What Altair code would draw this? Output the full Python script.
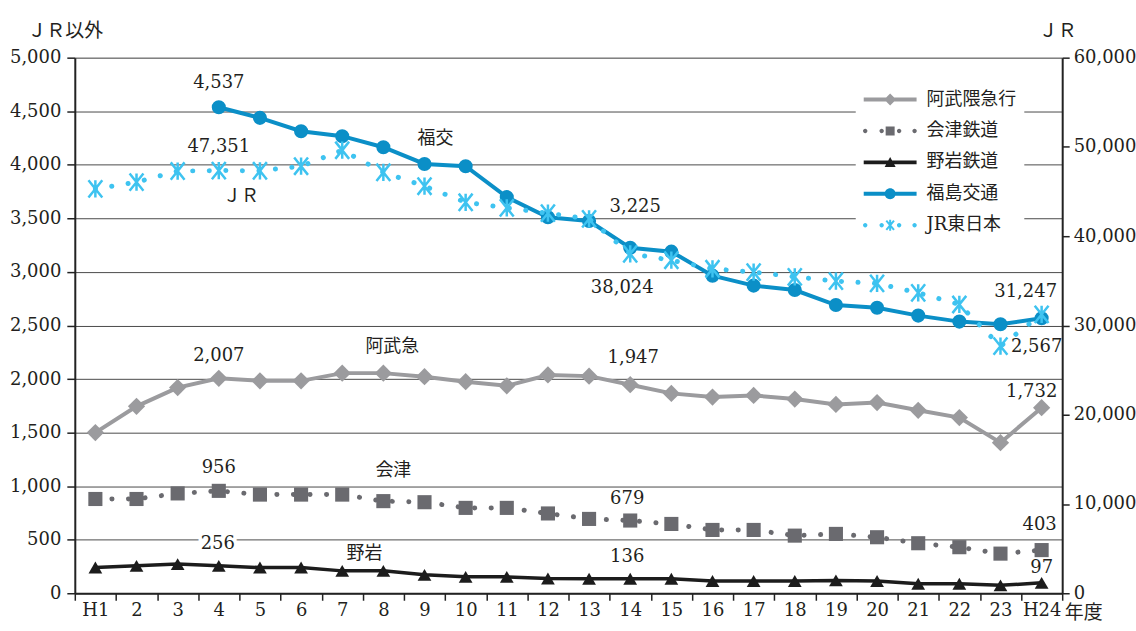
import math
import altair as alt
import pandas as pd

# 年度 (fiscal years, Heisei)
years = ["H1"] + [str(i) for i in range(2, 24)] + ["H24"]

# 輸送人員 (thousands) — private lines, left axis
abukuma = [1500, 1745, 1920, 2007, 1983, 1983, 2055, 2055, 2022, 1975, 1937, 2038,
           2027, 1947, 1866, 1832, 1847, 1813, 1763, 1780, 1708, 1640, 1406, 1732]
aizu = [880, 880, 932, 956, 921, 921, 921, 860, 850, 797, 797, 745,
        694, 679, 647, 591, 591, 538, 554, 523, 467, 430, 370, 403]
yagan = [240, 256, 272, 256, 240, 240, 209, 209, 172, 153, 153, 138,
         136, 136, 136, 114, 114, 114, 120, 114, 89, 89, 74, 97]
fukushima = [None, None, None, 4537, 4438, 4313, 4267, 4164, 4008, 3987, 3698, 3510,
             3475, 3225, 3189, 2965, 2872, 2831, 2691, 2666, 2592, 2536, 2511, 2567]
# JR east — right axis
jr_east = [45300, 46050, 47300, 47351, 47330, 47840, 49630, 47160, 45600, 43800, 43170, 42580,
           41940, 38024, 37310, 36350, 35980, 35450, 34970, 34710, 33660, 32350, 27680, 31247]

series_names = ["阿武隈急行", "会津鉄道", "野岩鉄道", "福島交通", "JR東日本"]
series_colors = ["#9b9b9e", "#6a6a6f", "#1c1c1c", "#0b8fc7", "#3ec3f0"]

NUM = "DejaVu Serif"
JP = "DejaVu Serif, Noto Sans CJK JP"
TEXT = "#231f20"

rows = []
for name, vals in zip(series_names[:4], [abukuma, aizu, yagan, fukushima]):
    for y, v in zip(years, vals):
        if v is not None:
            rows.append({"series": name, "year": y, "value": v})
left_df = pd.DataFrame(rows)
jr_df = pd.DataFrame({"series": "JR東日本", "year": years, "value": jr_east})
legend_df = pd.DataFrame({"series": series_names})


# ---------- legend symbols: line segment + marker drawn as one filled path ----------
def rect(x0, y0, x1, y1):
    return f"M{x0:.3f},{y0:.3f}L{x1:.3f},{y0:.3f}L{x1:.3f},{y1:.3f}L{x0:.3f},{y1:.3f}Z"


def circle(cx, cy, r):
    return (f"M{cx - r:.3f},{cy:.3f}A{r},{r} 0 1 1 {cx + r:.3f},{cy:.3f}"
            f"A{r},{r} 0 1 1 {cx - r:.3f},{cy:.3f}Z")


def bar(cx, cy, deg, half_len, half_w):
    c, s = math.cos(math.radians(deg)), math.sin(math.radians(deg))
    pts = [(cx - half_len * c + half_w * s, cy - half_len * s - half_w * c),
           (cx + half_len * c + half_w * s, cy + half_len * s - half_w * c),
           (cx + half_len * c - half_w * s, cy + half_len * s + half_w * c),
           (cx - half_len * c - half_w * s, cy - half_len * s + half_w * c)]
    return "M" + "L".join(f"{x:.3f},{y:.3f}" for x, y in pts) + "Z"


XL, XR, XC = -1.0, 4.3, 1.65
dots = "".join(circle(x, 0, 0.22) for x in (-0.85, 0.8, 2.55, 4.1))
legend_paths = [
    rect(XL, -0.2, XR, 0.2) + f"M{XC - 0.6},0L{XC},-0.6L{XC + 0.6},0L{XC},0.6Z",
    dots + rect(XC - 0.45, -0.45, XC + 0.45, 0.45),
    rect(XL, -0.18, XR, 0.18) + f"M{XC - 0.55},0.45L{XC},-0.55L{XC + 0.55},0.45Z",
    rect(XL, -0.2, XR, 0.2) + circle(XC, 0, 0.55),
    dots + bar(XC, 0, 90, 0.55, 0.1) + bar(XC, 0, 50, 0.6, 0.1) + bar(XC, 0, 130, 0.6, 0.1),
]

asterisk = "M-0.8,-1L0.8,1M0.8,-1L-0.8,1M0,-1L0,1"

# ---------- shared encodings ----------
x_enc = alt.X(
    "year:N", sort=years, bandPosition=0.5,
    scale=alt.Scale(type="band", paddingInner=0, paddingOuter=0),
    axis=alt.Axis(
        title="年度", titleX=992, titleY=19, titleAngle=0, titleAlign="left",
        titleBaseline="middle", titleFont=JP, titleFontSize=19, titleFontWeight="normal",
        titleColor=TEXT, labelFont=NUM, labelFontSize=18, labelColor=TEXT, labelAngle=0,
        labelPadding=1, tickBand="extent", tickSize=7, tickColor="#222", tickWidth=1.5,
        domainColor="#222", domainWidth=2, grid=False),
)

y_left = alt.Y(
    "value:Q", scale=alt.Scale(domain=[0, 5000], nice=False),
    axis=alt.Axis(
        orient="left", values=list(range(0, 5001, 500)), format=",d",
        title="ＪＲ以外", titleX=-48, titleY=-27, titleAngle=0, titleAlign="left",
        titleBaseline="middle", titleFont=JP, titleFontSize=19, titleFontWeight="normal",
        titleColor=TEXT, labelFont=NUM, labelFontSize=18, labelColor=TEXT, labelPadding=6,
        tickSize=8, tickColor="#222", tickWidth=1.5, domainColor="#222", domainWidth=2,
        grid=True, gridColor="#4a4a4a", gridWidth=1),
)

y_right = alt.Y(
    "value:Q", scale=alt.Scale(domain=[0, 60000], nice=False),
    axis=alt.Axis(
        orient="right", values=list(range(0, 60001, 10000)), format=",d",
        title="ＪＲ", titleX=-24, titleY=-27, titleAngle=0, titleAlign="left",
        titleBaseline="middle", titleFont=JP, titleFontSize=19, titleFontWeight="normal",
        titleColor=TEXT, labelFont=NUM, labelFontSize=18, labelColor=TEXT, labelPadding=4,
        tickSize=7, tickColor="#222", tickWidth=1.5, domainColor="#222", domainWidth=2,
        grid=False),
)


def series_layers(frame, name, color, y_enc, line_kw, point_kw):
    base = alt.Chart(frame).transform_filter(alt.datum.series == name)
    line = base.mark_line(color=color, **line_kw).encode(x=x_enc, y=y_enc)
    pts = base.mark_point(color=color, opacity=1, **point_kw).encode(x=x_enc, y=y_enc)
    return [line, pts]


def label(frame, name, year, dx, dy, y_enc, text=None, font=NUM, halo=False):
    base = alt.Chart(frame).transform_filter(
        (alt.datum.series == name) & (alt.datum.year == year))
    txt = alt.Text("value:Q", format=",") if text is None else alt.value(text)
    layers = []
    if halo:
        layers.append(base.mark_text(dx=dx, dy=dy, font=font, fontSize=18, color="white",
                                     stroke="white", strokeWidth=7).encode(x=x_enc, y=y_enc, text=txt))
    layers.append(base.mark_text(dx=dx, dy=dy, font=font, fontSize=18, color=TEXT)
                  .encode(x=x_enc, y=y_enc, text=txt))
    return layers


dotted = dict(strokeWidth=5, strokeDash=[0.1, 16.5], strokeCap="round")

left_layers = []
left_layers += series_layers(left_df, "阿武隈急行", series_colors[0], y_left,
                             dict(strokeWidth=4), dict(shape="diamond", filled=True, size=300))
left_layers += series_layers(left_df, "会津鉄道", series_colors[1], y_left,
                             dotted, dict(shape="square", filled=True, size=200))
left_layers += series_layers(left_df, "野岩鉄道", series_colors[2], y_left,
                             dict(strokeWidth=3.5), dict(shape="triangle-up", filled=True, size=190))
left_layers += series_layers(left_df, "福島交通", series_colors[3], y_left,
                             dict(strokeWidth=4), dict(shape="circle", filled=True, size=200))

# value and name labels on the private lines
left_layers += label(left_df, "福島交通", "4", 0, -24, y_left)
left_layers += label(left_df, "福島交通", "14", 5, -41, y_left)
left_layers += label(left_df, "福島交通", "H24", -5, 29, y_left)
left_layers += label(left_df, "福島交通", "9", 11, -25, y_left, text="福交", font=JP)
left_layers += label(left_df, "阿武隈急行", "4", 0, -22, y_left)
left_layers += label(left_df, "阿武隈急行", "14", 3, -27, y_left)
left_layers += label(left_df, "阿武隈急行", "H24", -10, -16, y_left)
left_layers += label(left_df, "阿武隈急行", "8", 9, -26, y_left, text="阿武急", font=JP)
left_layers += label(left_df, "会津鉄道", "4", 0, -23, y_left)
left_layers += label(left_df, "会津鉄道", "14", -3, -22, y_left)
left_layers += label(left_df, "会津鉄道", "H24", -2, -25, y_left)
left_layers += label(left_df, "会津鉄道", "8", 10, -30, y_left, text="会津", font=JP)
left_layers += label(left_df, "野岩鉄道", "4", -1, -22, y_left, halo=True)
left_layers += label(left_df, "野岩鉄道", "14", -3, -22, y_left)
left_layers += label(left_df, "野岩鉄道", "H24", 0, -15, y_left)
left_layers += label(left_df, "野岩鉄道", "8", -19, -17, y_left, text="野岩", font=JP)

# legend built from the series table; symbols combine line and marker
legend_props = dict(
    title=None, orient="none", legendX=783, legendY=24, padding=8, fillColor="white",
    strokeColor=None, symbolSize=400, symbolStrokeWidth=0, symbolOpacity=1,
    labelOffset=43, rowPadding=12.5, labelFont=JP, labelFontSize=18, labelColor=TEXT,
    labelLimit=200, zindex=1)
legend_layer = alt.Chart(legend_df).transform_filter(alt.datum.series == "none").mark_point(
    filled=True, opacity=1).encode(
    color=alt.Color("series:N", scale=alt.Scale(domain=series_names, range=series_colors),
                    legend=alt.Legend(**legend_props)),
    shape=alt.Shape("series:N", scale=alt.Scale(domain=series_names, range=legend_paths),
                    legend=alt.Legend(**legend_props)),
)
left_layers.append(legend_layer)

right_layers = []
right_layers += series_layers(jr_df, "JR東日本", series_colors[4], y_right,
                              dotted, dict(shape=asterisk, filled=False, size=300, strokeWidth=2.5))
right_layers += label(jr_df, "JR東日本", "4", 0, -24, y_right)
right_layers += label(jr_df, "JR東日本", "14", -8, 34, y_right)
right_layers += label(jr_df, "JR東日本", "H24", -16, -22, y_right)
right_layers += label(jr_df, "JR東日本", "5", -19, 26, y_right, text="ＪＲ", font=JP)

left = alt.layer(*left_layers)
right = alt.layer(*right_layers)

chart = (
    alt.layer(left, right)
    .resolve_scale(y="independent")
    .properties(width=990, height=537,
                padding={"left": 9, "top": 21, "right": 0, "bottom": 0})
    .configure_view(stroke=None)
    .configure(background="white")
)

chart.save("out.html", embed_options={"renderer": "svg", "actions": False})
